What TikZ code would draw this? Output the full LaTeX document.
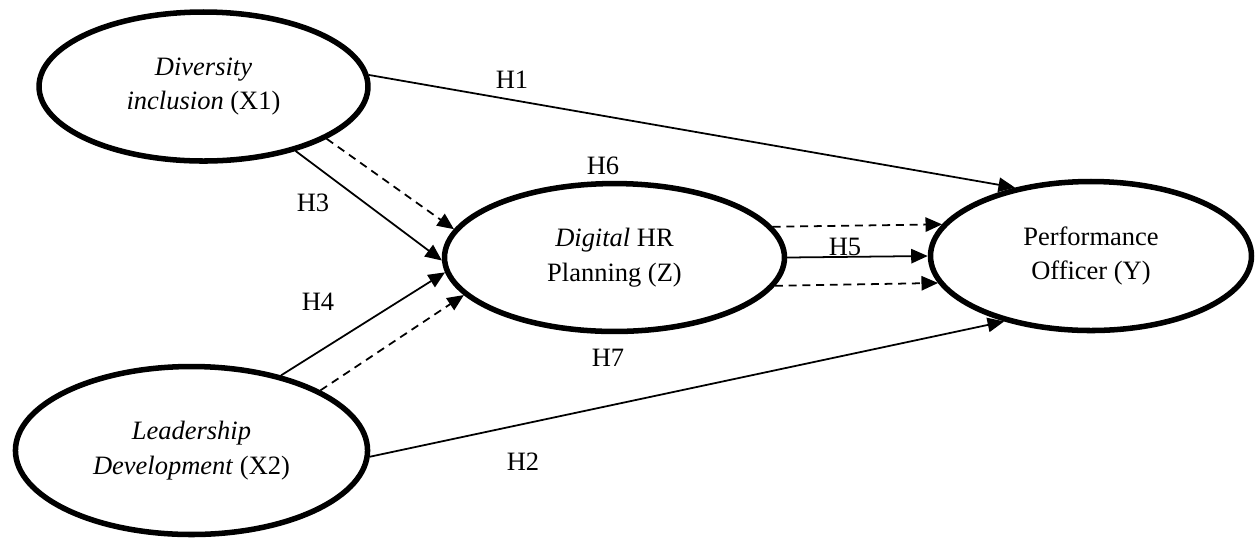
\documentclass[tikz,border=0pt]{standalone}
\usepackage{fontspec}
\setmainfont{Liberation Serif}
\usetikzlibrary{shapes.geometric,arrows.meta}

\begin{document}
\begin{tikzpicture}[x=0.453pt,y=-0.453pt,
  latent/.style={draw,ellipse,line width=2.5pt,inner sep=0pt,align=center,
    font=\fontsize{12}{15.8}\selectfont},
  direct/.style={-{Triangle[length=7.5pt,width=6.5pt]},line width=0.8pt},
  indirect/.style={direct,dash pattern=on 3.6pt off 2.6pt},
  hlabel/.style={font=\fontsize{12}{14}\selectfont,inner sep=0pt}]

  % Frame
  \useasboundingbox (0,0) rectangle (1256,538);

  % Constructs
  \node[latent,minimum width=149pt,minimum height=67.5pt] (x1) at (203.5,86.5)
    {\textit{Diversity}\\\textit{inclusion} (X1)};
  \node[latent,minimum width=159.5pt,minimum height=76.1pt] (x2) at (191.5,450.5)
    {\textit{Leadership}\\\textit{Development} (X2)};
  \node[latent,minimum width=154pt,minimum height=67pt] (z) at (614.5,257.5)
    {\textit{Digital} HR\\Planning (Z)};
  \node[latent,minimum width=145.4pt,minimum height=67.5pt] (y) at (1091,256)
    {Performance\\Officer (Y)};

  % Direct paths
  \draw[direct] (x1.4) -- (y.138);
  \draw[direct] (x2.-2.4) -- (y.217);
  \draw[direct] (x1.-35.4) -- (z.181.4);
  \draw[direct] (x2.40.6) -- (z.185);
  \draw[direct] (z.0) -- (y.180);

  % Mediated paths
  \draw[indirect] (x1.-23.2) -- (z.170.4);
  \draw[indirect] (x2.25) -- (z.194.8);
  \draw[indirect] (z.11.8) -- (y.168.7);
  \draw[indirect] (z.-10.5) -- (y.190.5);

  % Hypotheses
  \node[hlabel] (h1) at (512,80) {H1};
  \node[hlabel] (h2) at (523,462) {H2};
  \node[hlabel] (h3) at (313,203) {H3};
  \node[hlabel] (h4) at (318,302) {H4};
  \node[hlabel] (h5) at (845,247) {H5};
  \node[hlabel] (h6) at (603,166) {H6};
  \node[hlabel] (h7) at (608,358) {H7};
\end{tikzpicture}
\end{document}
